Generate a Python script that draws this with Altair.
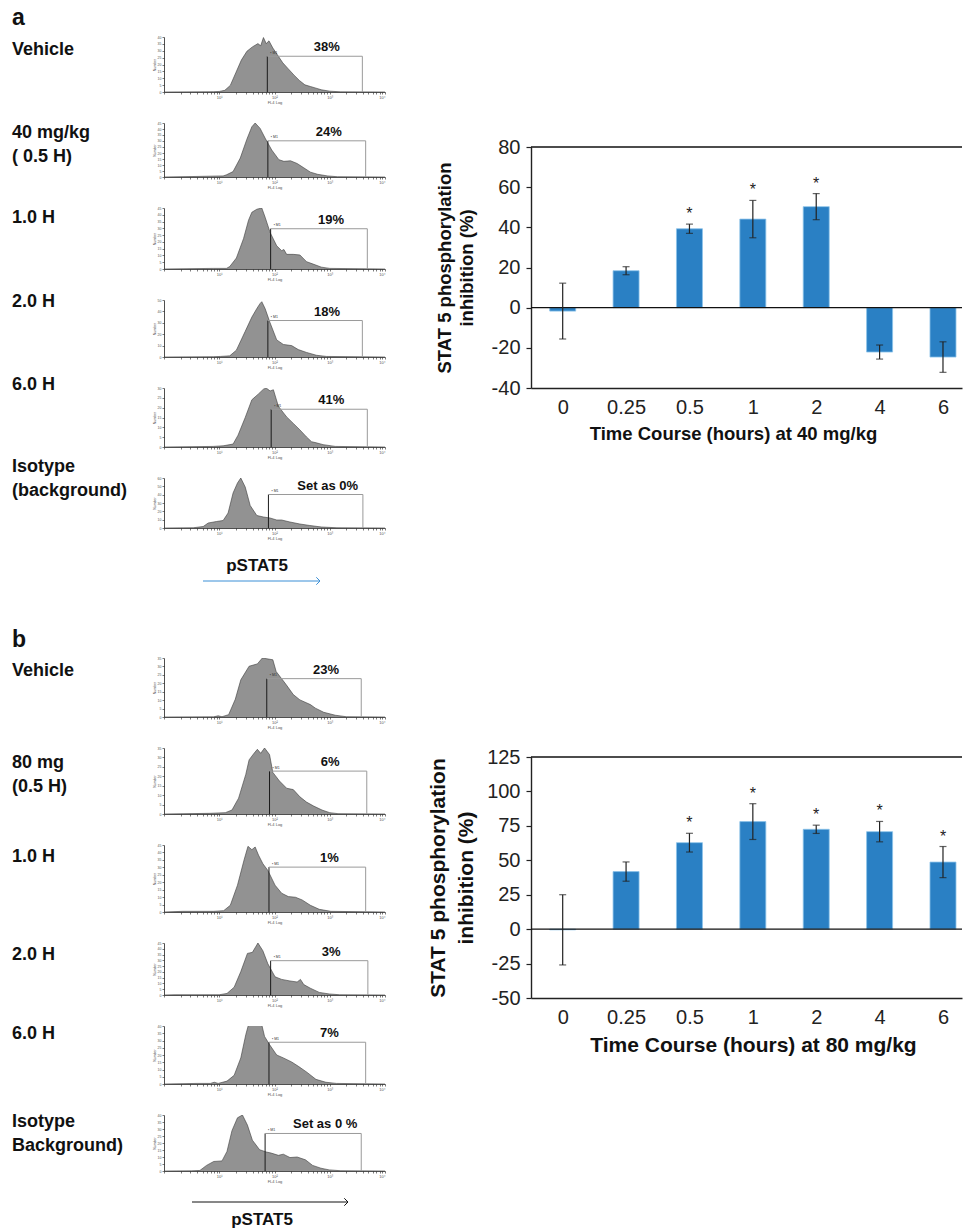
import altair as alt
import numpy as np
import pandas as pd

FONT = "Liberation Sans"
BLUE = "#2a80c4"

# ---------------- bar chart data ----------------
time_labels = ["0", "0.25", "0.5", "1", "2", "4", "6"]
a_mean = [-1.7, 18.4, 39.3, 44.1, 50.3, -22.1, -24.6]
a_err = [13.9, 2.0, 2.3, 9.3, 6.5, 3.5, 7.6]
a_sig = ["", "", "*", "*", "*", "", ""]
b_mean = [-0.5, 41.8, 62.8, 78.1, 72.5, 70.8, 48.7]
b_err = [25.5, 7.0, 6.8, 13.0, 3.0, 7.4, 11.3]
b_sig = ["", "", "*", "*", "*", "*", "*"]

# ---------------- flow histograms (x = log10 FL4, y = fraction of axis height) ----------------
veh_a_x = [0, 0.9, 1.0, 1.1, 1.2, 1.3, 1.4, 1.5, 1.6, 1.7, 1.75, 1.8, 1.85, 1.9, 1.97, 2.05, 2.15, 2.25, 2.35, 2.45, 2.55, 2.65, 2.75, 2.85, 3.0, 3.2, 4.0]
veh_a_y = [0, 0.005, 0.01, 0.03, 0.12, 0.35, 0.58, 0.74, 0.82, 0.88, 0.84, 0.99, 0.88, 0.93, 0.80, 0.68, 0.53, 0.42, 0.31, 0.21, 0.13, 0.10, 0.07, 0.04, 0.015, 0.003, 0]
d40_x = [0, 0.58, 1.07, 1.13, 1.25, 1.38, 1.50, 1.59, 1.65, 1.74, 1.83, 1.95, 2.08, 2.17, 2.29, 2.41, 2.53, 2.65, 2.78, 2.96, 3.14, 4.0]
d40_y = [0, 0.01, 0.02, 0.04, 0.10, 0.35, 0.70, 0.93, 1.0, 0.90, 0.72, 0.50, 0.32, 0.29, 0.30, 0.25, 0.17, 0.09, 0.05, 0.02, 0.005, 0]
h1a_x = [0, 0.89, 1.13, 1.19, 1.31, 1.44, 1.53, 1.59, 1.68, 1.77, 1.83, 1.92, 2.04, 2.13, 2.17, 2.22, 2.34, 2.46, 2.58, 2.70, 2.85, 3.0, 4.0]
h1a_y = [0, 0.01, 0.01, 0.04, 0.18, 0.5, 0.8, 0.93, 0.98, 1.0, 0.85, 0.6, 0.38, 0.3, 0.32, 0.24, 0.24, 0.23, 0.12, 0.08, 0.03, 0.01, 0]
h2a_x = [0, 0.9, 1.02, 1.19, 1.31, 1.47, 1.59, 1.68, 1.74, 1.77, 1.83, 1.92, 2.04, 2.16, 2.31, 2.43, 2.58, 2.76, 2.94, 4.0]
h2a_y = [0, 0.005, 0.01, 0.02, 0.12, 0.45, 0.7, 0.85, 0.94, 0.97, 0.85, 0.6, 0.3, 0.22, 0.2, 0.13, 0.08, 0.03, 0.01, 0]
h6a_x = [0, 0.89, 1.07, 1.25, 1.34, 1.47, 1.59, 1.71, 1.80, 1.85, 1.92, 1.98, 2.07, 2.22, 2.34, 2.46, 2.58, 2.67, 2.76, 2.88, 3.1, 4.0]
h6a_y = [0, 0.01, 0.02, 0.05, 0.2, 0.5, 0.8, 0.9, 0.98, 1.0, 0.95, 0.97, 0.69, 0.51, 0.40, 0.29, 0.17, 0.09, 0.07, 0.04, 0.01, 0]
iso_a_x = [0, 0.53, 0.71, 0.80, 0.95, 1.07, 1.16, 1.25, 1.33, 1.39, 1.47, 1.56, 1.68, 1.80, 1.92, 2.04, 2.13, 2.28, 2.46, 2.64, 2.85, 3.13, 4.0]
iso_a_y = [0, 0.005, 0.03, 0.1, 0.13, 0.15, 0.3, 0.7, 0.9, 1.0, 0.82, 0.45, 0.25, 0.22, 0.2, 0.16, 0.16, 0.12, 0.08, 0.05, 0.02, 0.005, 0]
veh_b_x = [0, 0.9, 0.98, 1.05, 1.17, 1.29, 1.39, 1.54, 1.69, 1.78, 1.97, 2.03, 2.21, 2.34, 2.46, 2.65, 2.74, 2.89, 3.1, 3.3, 4.0]
veh_b_y = [0, 0.003, 0.02, 0.005, 0.04, 0.3, 0.63, 0.86, 0.9, 1.0, 0.97, 0.77, 0.55, 0.38, 0.29, 0.21, 0.15, 0.08, 0.03, 0.005, 0]
d80_x = [0, 0.83, 1.11, 1.23, 1.35, 1.48, 1.54, 1.63, 1.69, 1.75, 1.82, 1.91, 1.97, 2.09, 2.22, 2.34, 2.46, 2.58, 2.71, 2.86, 3.0, 3.15, 4.0]
d80_y = [0, 0.01, 0.02, 0.06, 0.24, 0.6, 0.82, 0.92, 0.98, 0.92, 1.0, 0.9, 0.63, 0.5, 0.39, 0.37, 0.26, 0.18, 0.12, 0.06, 0.02, 0.005, 0]
h1b_x = [0, 0.34, 0.9, 1.08, 1.2, 1.33, 1.45, 1.52, 1.59, 1.65, 1.71, 1.79, 1.88, 2.01, 2.13, 2.25, 2.38, 2.5, 2.65, 2.81, 3.02, 4.0]
h1b_y = [0, 0.01, 0.01, 0.02, 0.1, 0.4, 0.78, 0.98, 0.93, 0.97, 0.85, 0.72, 0.62, 0.4, 0.28, 0.23, 0.22, 0.18, 0.1, 0.04, 0.01, 0]
h2b_x = [0, 0.2, 1.0, 1.14, 1.27, 1.39, 1.51, 1.6, 1.7, 1.79, 1.88, 2.01, 2.13, 2.28, 2.41, 2.47, 2.53, 2.65, 2.81, 2.99, 3.18, 4.0]
h2b_y = [0, 0.005, 0.005, 0.03, 0.15, 0.45, 0.8, 0.82, 1.0, 0.85, 0.6, 0.35, 0.3, 0.27, 0.25, 0.3, 0.2, 0.13, 0.05, 0.02, 0.005, 0]
h6b_x = [0, 0.6, 0.84, 0.91, 0.98, 1.14, 1.27, 1.39, 1.48, 1.54, 1.76, 1.82, 1.91, 2.04, 2.16, 2.31, 2.44, 2.59, 2.75, 2.93, 3.12, 4.0]
h6b_y = [0, 0.01, 0.01, 0.03, 0.01, 0.05, 0.15, 0.45, 0.85, 1.06, 1.06, 0.82, 0.68, 0.5, 0.45, 0.38, 0.3, 0.2, 0.08, 0.03, 0.01, 0]
iso_b_x = [0, 0.5, 0.65, 0.77, 0.9, 1.05, 1.14, 1.23, 1.33, 1.42, 1.51, 1.6, 1.73, 1.85, 1.94, 2.07, 2.16, 2.28, 2.41, 2.56, 2.69, 2.84, 2.99, 3.2, 4.0]
iso_b_y = [0, 0.003, 0.01, 0.1, 0.17, 0.18, 0.35, 0.72, 0.95, 1.0, 0.82, 0.55, 0.38, 0.34, 0.32, 0.28, 0.3, 0.24, 0.25, 0.2, 0.1, 0.05, 0.02, 0.005, 0]

# gates: (left log10, right log10, height fraction)
gates_a = [(1.87, 3.59, 0.65), (1.88, 3.65, 0.67), (1.93, 3.68, 0.66), (1.88, 3.59, 0.64), (1.94, 3.68, 0.64), (1.89, 3.60, 0.67)]
gates_b = [(1.86, 3.57, 0.65), (1.91, 3.67, 0.65), (1.90, 3.65, 0.67), (1.93, 3.69, 0.66), (1.90, 3.65, 0.72), (1.83, 3.57, 0.67)]
pct_a = ["38%", "24%", "19%", "18%", "41%", "Set as 0%"]
pct_b = ["23%", "6%", "1%", "3%", "7%", "Set as 0 %"]
ymax_a = [40, 45, 45, 50, 30, 60]
ymax_b = [35, 35, 45, 45, 40, 40]
labels_a = [["Vehicle"], ["40 mg/kg", "( 0.5 H)"], ["1.0 H"], ["2.0 H"], ["6.0 H"], ["Isotype", "(background)"]]
labels_b = [["Vehicle"], ["80 mg", "(0.5 H)"], ["1.0 H"], ["2.0 H"], ["6.0 H"], ["Isotype", "Background)"]]

HIST_W = 221
one = pd.DataFrame({"k": [0]})


def hist_chart(xs, ys, gate, pct, ymax, height, lines, label_y, extra=()):
    step = 10 if ymax >= 50 else 5
    minor = [float(d + np.log10(k)) for d in range(4) for k in range(1, 10)] + [4.0]
    xscale = alt.Scale(domain=[0, 4], nice=False, zero=False, padding=0)
    yscale = alt.Scale(domain=[0, 1], nice=False, zero=False, padding=0)
    xaxis = alt.Axis(values=minor, title="FL4 Log", grid=False,
                     labelExpr="datum.value == 1 ? '10\u00b9' : datum.value == 2 ? '10\u00b2' : datum.value == 3 ? '10\u00b3' : datum.value == 4 ? '10\u2074' : ''",
                     labelFontSize=4, titleFontSize=4, titleFontWeight="normal", labelPadding=1, titlePadding=1,
                     tickSize=2, tickWidth=0.6, domainWidth=0.8, domainColor="#222", tickColor="#222",
                     labelColor="#555", titleColor="#555")
    yvals = [round(i * step / ymax, 6) for i in range(int(ymax / step) + 1)]
    yaxis = alt.Axis(values=yvals, title="Number", grid=False,
                     labelExpr="round(datum.value*%d)" % ymax,
                     labelFontSize=3.5, titleFontSize=3.5, titleFontWeight="normal", labelPadding=1, titlePadding=1,
                     tickSize=2, tickWidth=0.6, domainWidth=0.8, domainColor="#222", tickColor="#222",
                     labelColor="#555", titleColor="#555")

    def X(f):
        return alt.X(f, type="quantitative", scale=xscale, axis=xaxis)

    def Y(f):
        return alt.Y(f, type="quantitative", scale=yscale, axis=yaxis)

    df = pd.DataFrame({"fl4": xs, "count": ys})
    area = alt.Chart(df).mark_area(
        color="#646464", clip=True, interpolate="linear",
        line=alt.OverlayMarkDef(color="#3a3a3a", strokeWidth=0.6, clip=True)
    ).encode(x=X("fl4"), y=Y("count"))

    g = pd.DataFrame({"lo": [gate[0]], "hi": [gate[1]], "h": [gate[2]], "floor": [0.0], "pct": [pct]})
    gl = alt.Chart(g).mark_rule(color="#1a1a1a", strokeWidth=1).encode(x=X("lo"), y=Y("floor"), y2=alt.Y2("h:Q"))
    gt = alt.Chart(g).mark_rule(color="#9a9a9a", strokeWidth=1).encode(x=X("lo"), x2=alt.X2("hi:Q"), y=Y("h"))
    gr = alt.Chart(g).mark_rule(color="#9a9a9a", strokeWidth=1).encode(x=X("hi"), y=Y("floor"), y2=alt.Y2("h:Q"))
    m1 = alt.Chart(g).mark_text(text="\u25aa M1", fontSize=3.5, dx=3, dy=-1.5, align="left", baseline="bottom",
                                color="#333").encode(x=X("lo"), y=Y("h"))
    pt = alt.Chart(g).transform_calculate(mid="(datum.lo + datum.hi) / 2").mark_text(
        fontSize=13, fontWeight="bold", dx=12, dy=-5, align="center", baseline="alphabetic", color="#111"
    ).encode(x=X("mid"), y=Y("h"), text="pct:N")
    lab = alt.Chart(one).mark_text(
        text=lines, align="left", baseline="middle", fontSize=18, fontWeight="bold", lineHeight=24, color="#111"
    ).encode(x=alt.value(-152), y=alt.value(label_y))
    layers = [area, gl, gt, gr, m1, pt, lab] + list(extra)
    return alt.layer(*layers).properties(width=HIST_W, height=height)


def letter(ch, y):
    return alt.Chart(one).mark_text(text=ch, fontSize=23, fontWeight="bold", align="left",
                                    baseline="alphabetic", color="#111").encode(x=alt.value(-152), y=alt.value(y))


def pstat(text_x, text_y, ax1, ax2, ay, color):
    t = alt.Chart(one).mark_text(text="pSTAT5", fontSize=17, fontWeight="bold", align="center",
                                 baseline="middle", color="#111").encode(x=alt.value(text_x), y=alt.value(text_y))
    r = alt.Chart(one).mark_rule(color=color, strokeWidth=1).encode(
        x=alt.value(ax1), x2=alt.value(ax2), y=alt.value(ay))
    head = alt.Chart(one).mark_point(shape="M-1,-1L0,0L-1,1", filled=False, size=55, color=color,
                                     strokeWidth=1, opacity=1).encode(x=alt.value(ax2), y=alt.value(ay))
    return [t, r, head]


def spacer(w, h):
    return alt.Chart(one).mark_point(opacity=0).encode(x=alt.value(0), y=alt.value(0)).properties(width=w, height=h)


heights_a = [55, 54, 61, 57, 59, 50]
heights_b = [59, 66, 67, 52, 58, 56]
# y of the first label line, relative to each histogram's top
label_y_a = [13, 10, 10, 2, -3, -11]
label_y_b = [13, 15, 12, 12, 8, 7]
data_a = [(veh_a_x, veh_a_y), (d40_x, d40_y), (h1a_x, h1a_y), (h2a_x, h2a_y), (h6a_x, h6a_y), (iso_a_x, iso_a_y)]
data_b = [(veh_b_x, veh_b_y), (d80_x, d80_y), (h1b_x, h1b_y), (h2b_x, h2b_y), (h6b_x, h6b_y), (iso_b_x, iso_b_y)]

rows = []
for i in range(6):
    extra = []
    if i == 0:
        extra = [letter("a", -12)]
    if i == 5:
        extra = pstat(93, 88, 39, 156, 103, "#3b8fd6")
    rows.append(hist_chart(data_a[i][0], data_a[i][1], gates_a[i], pct_a[i], ymax_a[i],
                           heights_a[i], labels_a[i], label_y_a[i], extra))

rows.append(spacer(HIST_W, 68))

for i in range(6):
    extra = []
    if i == 0:
        extra = [letter("b", -11)]
    if i == 5:
        extra = pstat(98, 105, 28, 184, 87, "#111111")
    rows.append(hist_chart(data_b[i][0], data_b[i][1], gates_b[i], pct_b[i], ymax_b[i],
                           heights_b[i], labels_b[i], label_y_b[i], extra))

left_col = alt.vconcat(*rows, spacing=31, bounds="flush")

# ---------------- bar charts ----------------
BAR_W = 431
BAR_H = 241


def bar_chart(mean, err, sig, ymin, ymax, ystep, xtitle, tsize, tlh, tpad, title_x):
    df = pd.DataFrame({"idx": list(range(7)), "time": time_labels, "mean": mean, "err": err, "sig": sig})
    label_js = "[" + ",".join("'%s'" % t for t in time_labels) + "][datum.value]"
    xscale = alt.Scale(domain=[-0.5, 6.3], nice=False, zero=False, padding=0)
    yscale = alt.Scale(domain=[ymin, ymax], nice=False, zero=False, padding=0)
    xaxis = alt.Axis(values=list(range(7)), labelExpr=label_js, title=xtitle, grid=False,
                     titleFontSize=tsize, titleFontWeight="bold", titleX=title_x, titlePadding=7,
                     titleColor="#111", labelFontSize=20, labelPadding=9, labelColor="#222",
                     ticks=False, domainColor="#222", domainWidth=1.4)
    yaxis = alt.Axis(values=list(range(ymin, ymax + 1, ystep)), labelExpr="datum.value + ''",
                     title=["STAT 5 phosphorylation", "inhibition (%)"], grid=False,
                     titleFontSize=tsize, titleFontWeight="bold", titleLineHeight=tlh, titlePadding=tpad,
                     titleColor="#111", labelFontSize=20, labelPadding=6, labelColor="#222",
                     tickSize=5, tickColor="#222", tickWidth=1.2, domainColor="#222", domainWidth=1.4)

    def X(f):
        return alt.X(f, type="quantitative", scale=xscale, axis=xaxis)

    def Y(f):
        return alt.Y(f, type="quantitative", scale=yscale, axis=yaxis)

    base = alt.Chart(df).transform_calculate(lo="datum.mean - datum.err", hi="datum.mean + datum.err")
    bars = alt.Chart(df).mark_bar(size=26, color=BLUE, stroke="#8cc3ea", strokeWidth=0.8).encode(
        x=X("idx"), y=Y("mean"))
    zero = alt.Chart(pd.DataFrame({"ref": [0]})).mark_rule(color="#111", strokeWidth=1.2).encode(y=Y("ref"))
    top = alt.Chart(pd.DataFrame({"ref": [ymax]})).mark_rule(color="#111", strokeWidth=1.4).encode(y=Y("ref"))
    eb = base.mark_rule(color="#222", strokeWidth=1.2).encode(x=X("idx"), y=Y("lo"), y2=alt.Y2("hi:Q"))
    cap_lo = base.mark_tick(orient="horizontal", size=7, thickness=1.2, color="#222").encode(x=X("idx"), y=Y("lo"))
    cap_hi = base.mark_tick(orient="horizontal", size=7, thickness=1.2, color="#222").encode(x=X("idx"), y=Y("hi"))
    star = base.mark_text(fontSize=16, dy=-10, baseline="middle", align="center", color="#222").encode(
        x=X("idx"), y=Y("hi"), text="sig:N")
    return alt.layer(bars, zero, top, eb, cap_lo, cap_hi, star).properties(width=BAR_W, height=BAR_H)


bar_a = bar_chart(a_mean, a_err, a_sig, -40, 80, 20, "Time Course (hours) at 40 mg/kg", 18.5, 22, 15, 202)
bar_b = bar_chart(b_mean, b_err, b_sig, -50, 125, 25, "Time Course (hours) at 80 mg/kg", 21, 28, 10, 222)

right_col = alt.vconcat(spacer(BAR_W, 110), bar_a, spacer(BAR_W, 369), bar_b, spacing=0, bounds="flush")

chart = alt.hconcat(left_col, right_col, spacing=41).properties(
    padding={"left": 12, "top": 7, "right": 2, "bottom": 0}
).configure(font=FONT).configure_view(stroke=None)

chart.save("out.html", embed_options={"renderer": "svg", "actions": False})
